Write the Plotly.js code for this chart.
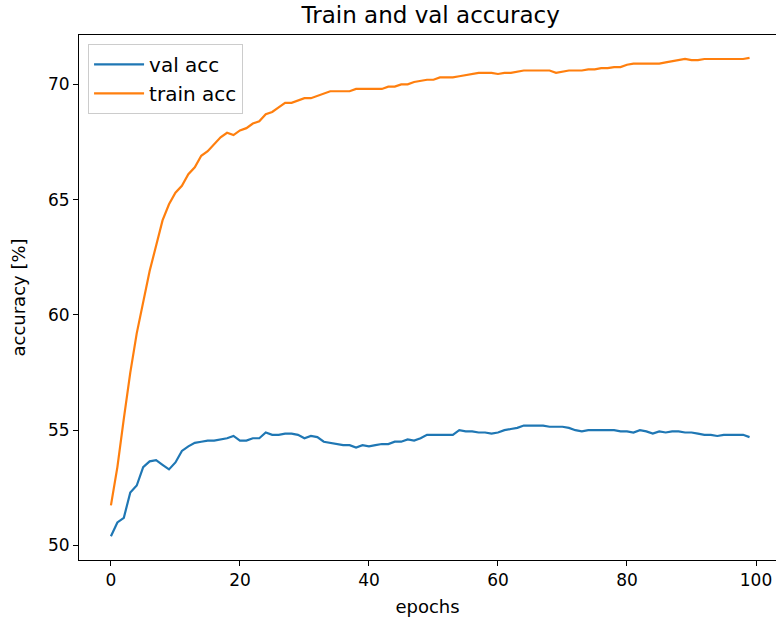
<!DOCTYPE html>
<html>
<head>
<meta charset="utf-8">
<script src="https://cdn.plot.ly/plotly-3.0.1.min.js"></script>
<style>html,body{margin:0;padding:0;background:#fff;}#chart{width:776px;height:625px;}</style>
</head>
<body>
<div id="chart"></div>
<script>
const epochs = Array.from({length: 100}, (_, i) => i);
const trainAcc = [
  51.74, 53.4, 55.5, 57.5, 59.2, 60.5, 61.9, 63.0, 64.1, 64.8,
  65.3, 65.6, 66.1, 66.4, 66.9, 67.1, 67.4, 67.7, 67.9, 67.8,
  68.0, 68.1, 68.3, 68.4, 68.7, 68.8, 69.0, 69.2, 69.2, 69.3,
  69.4, 69.4, 69.5, 69.6, 69.7, 69.7, 69.7, 69.7, 69.8, 69.8,
  69.8, 69.8, 69.8, 69.9, 69.9, 70.0, 70.0, 70.1, 70.15, 70.2,
  70.2, 70.3, 70.3, 70.3, 70.35, 70.4, 70.45, 70.5, 70.5, 70.5,
  70.45, 70.5, 70.5, 70.55, 70.6, 70.6, 70.6, 70.6, 70.6, 70.5,
  70.55, 70.6, 70.6, 70.6, 70.65, 70.65, 70.7, 70.7, 70.75, 70.75,
  70.85, 70.9, 70.9, 70.9, 70.9, 70.9, 70.95, 71.0, 71.05, 71.1,
  71.05, 71.05, 71.1, 71.1, 71.1, 71.1, 71.1, 71.1, 71.1, 71.15
];
const valAcc = [
  50.4, 51.0, 51.2, 52.3, 52.6, 53.4, 53.65, 53.7, 53.5, 53.3,
  53.6, 54.1, 54.3, 54.45, 54.5, 54.55, 54.55, 54.6, 54.65, 54.75,
  54.55, 54.55, 54.65, 54.65, 54.9, 54.8, 54.8, 54.85, 54.85, 54.8,
  54.65, 54.75, 54.7, 54.5, 54.45, 54.4, 54.35, 54.35, 54.25, 54.35,
  54.3, 54.35, 54.4, 54.4, 54.5, 54.5, 54.6, 54.55, 54.65, 54.8,
  54.8, 54.8, 54.8, 54.8, 55.0, 54.95, 54.95, 54.9, 54.9, 54.85,
  54.9, 55.0, 55.05, 55.1, 55.2, 55.2, 55.2, 55.2, 55.15, 55.15,
  55.15, 55.1, 55.0, 54.95, 55.0, 55.0, 55.0, 55.0, 55.0, 54.95,
  54.95, 54.9, 55.0, 54.95, 54.85, 54.95, 54.9, 54.95, 54.95, 54.9,
  54.9, 54.85, 54.8, 54.8, 54.75, 54.8, 54.8, 54.8, 54.8, 54.7
];
const xTicks = [0, 20, 40, 60, 80, 100];
const yTicks = [50, 55, 60, 65, 70];

const font = {family: 'DejaVu Sans, sans-serif', color: '#000'};
const data = [
  {x: epochs, y: valAcc, type: 'scatter', mode: 'lines', name: 'val acc',
   line: {color: '#1f77b4', width: 2.2}},
  {x: epochs, y: trainAcc, type: 'scatter', mode: 'lines', name: 'train acc',
   line: {color: '#ff7f0e', width: 2.2}}
];
const layout = {
  width: 776, height: 625,
  margin: {l: 79, r: 0, t: 35, b: 65},
  paper_bgcolor: '#fff', plot_bgcolor: '#fff',
  font: Object.assign({size: 16}, font),
  title: {text: 'Train and val accuracy', font: Object.assign({size: 23}, font),
          x: 0.555, xanchor: 'center', y: 0.976, yanchor: 'middle'},
  showlegend: true,
  legend: {x: 0.013, y: 0.983, xanchor: 'left', yanchor: 'top',
           bgcolor: 'rgba(255,255,255,0.8)', bordercolor: '#cccccc', borderwidth: 1,
           font: Object.assign({size: 20}, font), tracegroupgap: 0, itemwidth: 50},
  xaxis: {range: [-4.95, 103.1], tickvals: xTicks, ticktext: xTicks.map(String),
          showgrid: false, zeroline: false, showline: true, linecolor: '#000', linewidth: 1,
          mirror: true, ticks: 'outside', ticklen: 5, tickcolor: '#000',
          tickfont: Object.assign({size: 17}, font),
          title: {text: 'epochs', font: Object.assign({size: 18}, font), standoff: 10}},
  yaxis: {range: [49.37, 72.14], tickvals: yTicks, ticktext: yTicks.map(String),
          showgrid: false, zeroline: false, showline: true, linecolor: '#000', linewidth: 1,
          mirror: false, ticks: 'outside', ticklen: 5, tickcolor: '#000',
          tickfont: Object.assign({size: 17}, font),
          title: {text: 'accuracy [%]', font: Object.assign({size: 18}, font), standoff: 17}}
};
Plotly.newPlot('chart', data, layout, {displayModeBar: false, staticPlot: true});
</script>
</body>
</html>
